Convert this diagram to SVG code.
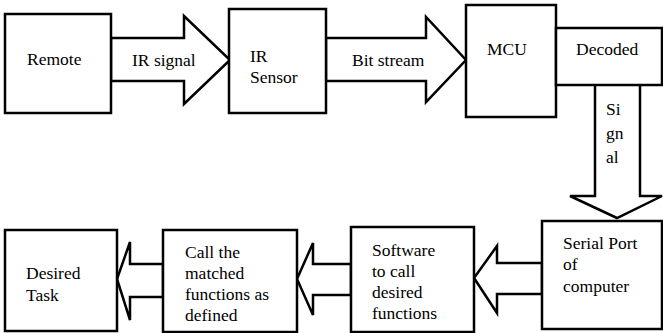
<svg xmlns="http://www.w3.org/2000/svg" width="663" height="333" viewBox="0 0 663 333" font-family="Liberation Serif, Times New Roman, DejaVu Serif, serif">
<style>
.b{fill:#fff;stroke:#000;stroke-width:2.5}
.a{fill:#fff;stroke:#000;stroke-width:2.5;stroke-linejoin:miter}
.t{font-family:Liberation Serif,Times New Roman,DejaVu Serif,serif;font-size:17.5px;fill:#000}
</style>
<rect width="663" height="333" fill="#fff"/>
<g id="connectors">
<polygon class="a" points="111,38 184,38 184,16 230,60 184,104 184,81 111,81"/>
<polygon class="a" points="326,38 426,38 426,17 466,60 426,102 426,81 326,81"/>
<polygon class="a" points="595,84 640,84 640,196 662,196 617,218 570,196 595,196"/>
<polygon class="a" points="542,263 497,263 497,246 474,278 497,313 497,294 542,294"/>
<polygon class="a" points="351,264 313,264 313,243 297,279 313,315 313,295 351,295"/>
<polygon class="a" points="163,264 130,264 130,242 117,279 130,320 130,297 163,297"/>
<text class="t" x="606" y="115">Si</text>
<text class="t" x="606" y="139">gn</text>
<text class="t" x="606" y="163">al</text>
<text class="t" x="132" y="66">IR signal</text>
<text class="t" x="352" y="66">Bit stream</text>
</g>
<g id="remote"><rect class="b" x="5" y="14" width="106" height="99"/><text class="t" x="27" y="65">Remote</text></g>
<g id="irsensor"><rect class="b" x="229" y="9" width="97" height="104"/><text class="t" x="250" y="62">IR</text><text class="t" x="250" y="83">Sensor</text></g>
<g id="mcu"><rect class="b" x="466" y="5" width="90" height="112"/><text class="t" x="487" y="55">MCU</text></g>
<g id="decoded"><rect class="b" x="556" y="28" width="106" height="57"/><text class="t" x="576" y="55">Decoded</text></g>
<g id="serial"><rect class="b" x="542" y="221" width="120" height="108"/><text class="t" x="563" y="249">Serial Port</text><text class="t" x="563" y="270">of</text><text class="t" x="563" y="292">computer</text></g>
<g id="software"><rect class="b" x="351" y="227" width="123" height="105"/><text class="t" x="372" y="256">Software</text><text class="t" x="372" y="277">to call</text><text class="t" x="372" y="298">desired</text><text class="t" x="372" y="319">functions</text></g>
<g id="call"><rect class="b" x="163" y="230" width="134" height="102"/><text class="t" x="185" y="258">Call the</text><text class="t" x="185" y="279">matched</text><text class="t" x="185" y="300">functions as</text><text class="t" x="185" y="321">defined</text></g>
<g id="desired"><rect class="b" x="5" y="230" width="112" height="101"/><text class="t" x="26" y="279">Desired</text><text class="t" x="26" y="301">Task</text></g>
</svg>
